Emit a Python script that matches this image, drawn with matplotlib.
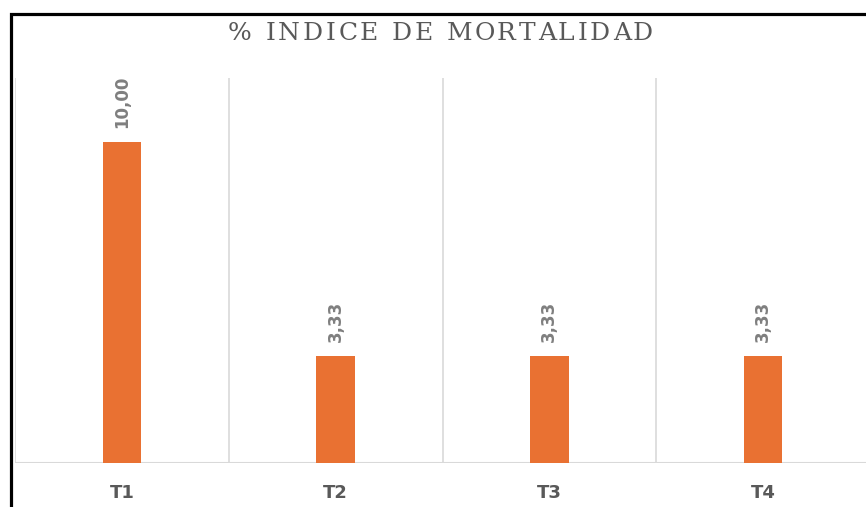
import matplotlib
matplotlib.use('Agg')
import matplotlib.pyplot as plt
from matplotlib.patches import Rectangle
from matplotlib.font_manager import FontProperties

# datos del grafico
categorias = ['T1', 'T2', 'T3', 'T4']
mortalidad = [10.00, 3.33, 3.33, 3.33]
etiquetas = ['10,00', '3,33', '3,33', '3,33']
titulo = '% INDICE DE MORTALIDAD'

W, H = 866, 507
fig = plt.figure(figsize=(W / 100, H / 100), dpi=100)
fig.patch.set_facecolor('white')

# area del grafico (en pixeles del original)
ax = fig.add_axes([15 / W, 44 / H, 855 / W, 385 / H])
ax.bar(range(len(categorias)), mortalidad, width=0.18, color='#E97132', zorder=3)
ax.set_xlim(-0.5, 3.5)
ax.set_ylim(0, 12)

# lineas verticales entre categorias
for x in [-0.5, 0.5, 1.5, 2.5, 3.5]:
    ax.axvline(x, color='#D9D9D9', lw=1.2, zorder=1)
ax.axhline(0, color='#D9D9D9', lw=1.5, zorder=2)

for s in ax.spines.values():
    s.set_visible(False)
ax.set_yticks([])
ax.set_xticks(range(len(categorias)))
ax.set_xticklabels(categorias, fontsize=13, fontweight='bold', color='#595959')
ax.tick_params(axis='x', length=0, pad=15)

# etiquetas de datos
for i, (v, t) in enumerate(zip(mortalidad, etiquetas)):
    ax.annotate(t, (i, v), xytext=(0, 10.5 if v > 5 else 10), textcoords='offset points',
                rotation=90, ha='center', va='bottom', fontsize=12,
                fontweight='bold', color='#7F7F7F')

# titulo con espaciado entre letras (ancho ~425 px en el original)
prop = FontProperties(family='DejaVu Serif', size=18)
r = fig.canvas.get_renderer()
def ancho(s):
    return r.get_text_width_height_descent(s, prop, ismath=False)[0]
avances = [ancho('X' + c + 'X') - ancho('XX') for c in titulo]
esp = (425 - sum(avances)) / (len(titulo) - 1)
x0 = 228
for c, a in zip(titulo, avances):
    fig.text(x0 / W, 1 - 33 / H, c, ha='left', va='center', fontproperties=prop,
             color='#595959')
    x0 += a + esp

# marco negro (recortado a la derecha y abajo)
fig.patches.append(Rectangle((10.5 / W, -0.1), 1.2, 1 - 14 / H + 0.1,
                             transform=fig.transFigure, fill=False,
                             edgecolor='black', lw=2.3))

fig.savefig('out.png', dpi=100)
